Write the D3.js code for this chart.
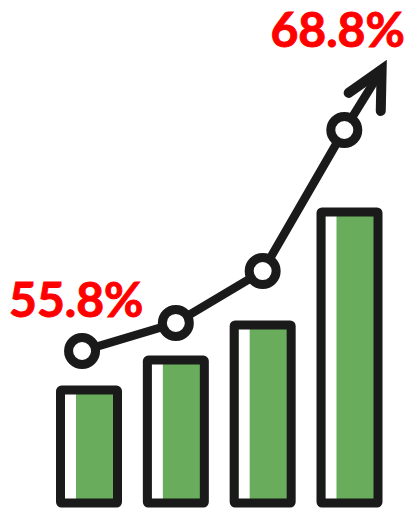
<!DOCTYPE html>
<html>
<head>
<meta charset="utf-8">
<script src="https://cdn.jsdelivr.net/npm/d3@7/dist/d3.min.js"></script>
<style>
html,body{margin:0;padding:0;background:#fff;overflow:hidden}
svg{display:block}
text{font-family:Lato,"Open Sans",sans-serif;font-weight:700;fill:#ff0000;stroke:#ff0000;stroke-width:1px}
</style>
</head>
<body>
<svg id="chart" width="405" height="508"></svg>
<script>
// Rising bars
const barSlots = [0, 1, 2, 3];
const barValues = [38.8, 49.1, 61.2, 100];

// Trend line: horizontal slot position and percentage at each marker
const trendSlots = [-0.08, 1.0, 2.0, 2.94];
const trendValues = [55.8, 57.45, 60.5, 68.8];

// Arrow drawn past the last marker: tip and the two barb ends
const arrowTip = { slot: 3.37, value: 72.35 };
const arrowBarbSlots = [2.99, 3.36];
const arrowBarbValues = [70.98, 69.92];

// Callouts
const labelTexts = ["55.8%", "68.8%"];
const labelSlots = [-0.92, 2.09];
const labelValues = [57.8, 73.68];

const svg = d3.select("#chart");
const ink = "#1a1a1a";
const green = "#69ad5c";

const x = d3.scaleLinear().domain([0, 3]).range([89, 349.5]);
const yBar = d3.scaleLinear().domain([0, 100]).range([503, 212]);
const yPct = d3.scaleLinear().domain([55.8, 68.8]).range([351, 130]);

const barW = 57, strokeW = 9, stripW = 11;

const bars = svg.append("g").selectAll("g").data(barSlots).join("g");
bars.append("rect")
  .attr("x", d => x(d) - barW / 2)
  .attr("y", (d, i) => yBar(barValues[i]))
  .attr("width", barW)
  .attr("height", (d, i) => yBar(0) - yBar(barValues[i]))
  .attr("fill", green);
bars.append("rect")
  .attr("x", d => x(d) - barW / 2 + strokeW / 2)
  .attr("y", (d, i) => yBar(barValues[i]))
  .attr("width", stripW)
  .attr("height", (d, i) => yBar(0) - yBar(barValues[i]))
  .attr("fill", "#fff");
bars.append("rect")
  .attr("x", d => x(d) - barW / 2)
  .attr("y", (d, i) => yBar(barValues[i]))
  .attr("width", barW)
  .attr("height", (d, i) => yBar(0) - yBar(barValues[i]))
  .attr("rx", 1)
  .attr("fill", "none")
  .attr("stroke", ink)
  .attr("stroke-width", strokeW)
  .attr("stroke-linejoin", "round");

const line = d3.line().x(d => x(d[0])).y(d => yPct(d[1]));
const trendPoints = trendSlots.map((s, i) => [s, trendValues[i]]);

svg.append("path")
  .attr("d", line(trendPoints.concat([[arrowTip.slot, arrowTip.value]])))
  .attr("fill", "none")
  .attr("stroke", ink)
  .attr("stroke-width", 8.5)
  .attr("stroke-linejoin", "round");

// Arrow head
svg.append("path")
  .attr("d", line([
    [arrowBarbSlots[0], arrowBarbValues[0]],
    [arrowTip.slot, arrowTip.value],
    [arrowBarbSlots[1], arrowBarbValues[1]]
  ]))
  .attr("fill", "none")
  .attr("stroke", ink)
  .attr("stroke-width", 10)
  .attr("stroke-linecap", "round")
  .attr("stroke-linejoin", "miter");

// Ring markers
svg.append("g").selectAll("circle").data(trendPoints).join("circle")
  .attr("cx", d => x(d[0]))
  .attr("cy", d => yPct(d[1]))
  .attr("r", 13.5)
  .attr("fill", "#fff")
  .attr("stroke", ink)
  .attr("stroke-width", 9);

svg.append("g").selectAll("text").data(labelTexts).join("text")
  .attr("x", (d, i) => x(labelSlots[i]))
  .attr("y", (d, i) => yPct(labelValues[i]))
  .attr("font-size", 48)
  .text(d => d);
</script>
</body>
</html>
